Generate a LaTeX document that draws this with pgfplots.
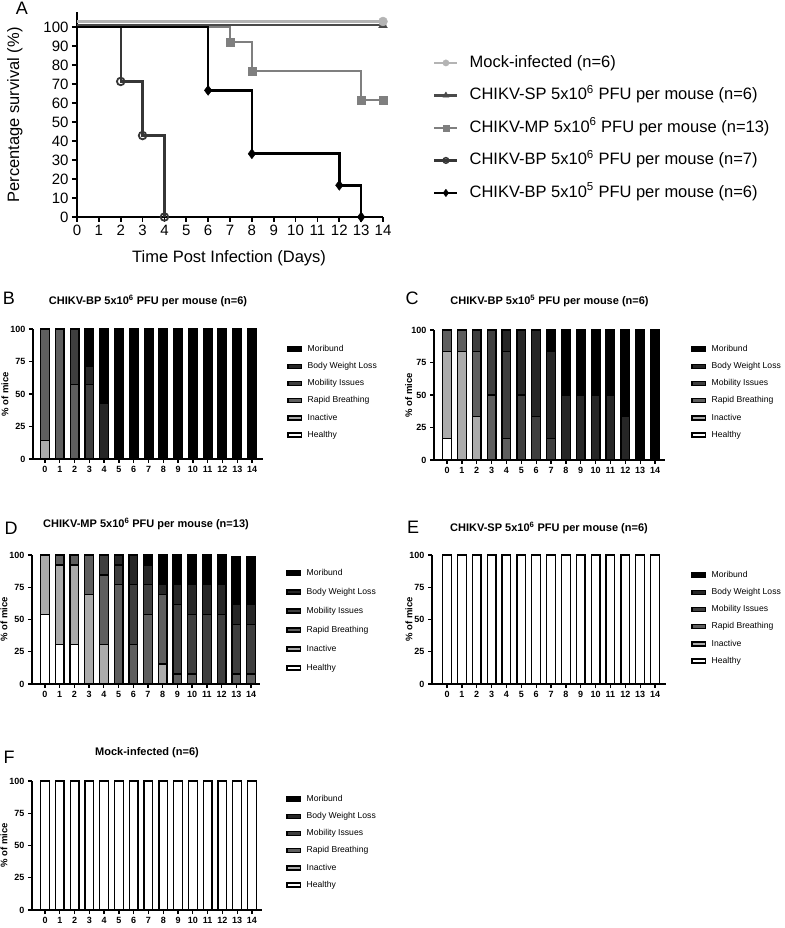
\documentclass[border=0pt]{standalone}
\usepackage{fontspec}
\setmainfont{Liberation Sans}
\usepackage{pgfplots}
\usepackage{pgfplotstable}
\pgfplotsset{compat=1.18}

\definecolor{mockgray}{HTML}{B4B4B4}
\definecolor{spgray}{HTML}{4A4A4A}
\definecolor{mpgray}{HTML}{7F7F7F}
\definecolor{bpgray}{HTML}{363636}
\definecolor{inactive}{HTML}{ABABAB}
\definecolor{rapid}{HTML}{5E5E5E}
\definecolor{mobility}{HTML}{3E3E3E}
\definecolor{bodyloss}{HTML}{262626}

% clinical scores, % of mice per day
% hea=Healthy ina=Inactive rap=Rapid Breathing mob=Mobility Issues bod=Body Weight Loss mor=Moribund
\pgfplotstableread{
day hea ina rap mob bod mor
0  0 14.3 85.7 0    0    0
1  0 0    100  0    0    0
2  0 0    57.1 42.9 0    0
3  0 0    0    57.1 14.3 28.6
4  0 0    0    0    42.9 57.1
5  0 0 0 0 0 100
6  0 0 0 0 0 100
7  0 0 0 0 0 100
8  0 0 0 0 0 100
9  0 0 0 0 0 100
10 0 0 0 0 0 100
11 0 0 0 0 0 100
12 0 0 0 0 0 100
13 0 0 0 0 0 100
14 0 0 0 0 0 100
}\tabB

\pgfplotstableread{
day hea ina rap mob bod mor
0  16.7 66.6 16.7 0    0    0
1  0    83.3 16.7 0    0    0
2  0    33.3 50   16.7 0    0
3  0    0    50   50   0    0
4  0    0    16.7 66.6 16.7 0
5  0    0    0    50   50   0
6  0    0    0    33.3 66.7 0
7  0    0    0    16.7 66.6 16.7
8  0    0    0    0    50   50
9  0    0    0    0    50   50
10 0    0    0    0    50   50
11 0    0    0    0    50   50
12 0    0    0    0    33.3 66.7
13 0    0    0    0    0    100
14 0    0    0    0    0    100
}\tabC

\pgfplotstableread{
day hea ina rap mob bod mor
0  53.8 46.2 0    0    0    0
1  30.8 61.5 7.7  0    0    0
2  30.8 61.5 7.7  0    0    0
3  0    69.2 30.8 0    0    0
4  0    30.8 53.8 15.4 0    0
5  0    0    76.9 15.4 7.7  0
6  0    0    30.8 46.1 23.1 0
7  0    0    53.8 23.1 15.4 7.7
8  0    15.4 53.8 0    7.7  23.1
9  0    0    7.7  53.8 15.4 23.1
10 0    0    7.7  46.1 23.1 23.1
11 0    0    0    53.8 23.1 23.1
12 0    0    0    53.8 23.1 23.1
13 0    0    7.7  38.5 15.4 37.0
14 0    0    7.7  38.5 15.4 37.0
}\tabD

\pgfplotstableread{
day hea ina rap mob bod mor
0  100 0 0 0 0 0
1  100 0 0 0 0 0
2  100 0 0 0 0 0
3  100 0 0 0 0 0
4  100 0 0 0 0 0
5  100 0 0 0 0 0
6  100 0 0 0 0 0
7  100 0 0 0 0 0
8  100 0 0 0 0 0
9  100 0 0 0 0 0
10 100 0 0 0 0 0
11 100 0 0 0 0 0
12 100 0 0 0 0 0
13 100 0 0 0 0 0
14 100 0 0 0 0 0
}\tabE

\pgfplotstableread{
day hea ina rap mob bod mor
0  100 0 0 0 0 0
1  100 0 0 0 0 0
2  100 0 0 0 0 0
3  100 0 0 0 0 0
4  100 0 0 0 0 0
5  100 0 0 0 0 0
6  100 0 0 0 0 0
7  100 0 0 0 0 0
8  100 0 0 0 0 0
9  100 0 0 0 0 0
10 100 0 0 0 0 0
11 100 0 0 0 0 0
12 100 0 0 0 0 0
13 100 0 0 0 0 0
14 100 0 0 0 0 0
}\tabF

\newcommand{\stackbars}[1]{%
  \addplot[fill=white] table[x=day,y=hea]{#1}; \addlegendentry{Healthy}
  \addplot[fill=inactive] table[x=day,y=ina]{#1}; \addlegendentry{Inactive}
  \addplot[fill=rapid] table[x=day,y=rap]{#1}; \addlegendentry{Rapid Breathing}
  \addplot[fill=mobility] table[x=day,y=mob]{#1}; \addlegendentry{Mobility Issues}
  \addplot[fill=bodyloss] table[x=day,y=bod]{#1}; \addlegendentry{Body Weight Loss}
  \addplot[fill=black] table[x=day,y=mor]{#1}; \addlegendentry{Moribund}
}

\pgfplotsset{
  panel/.style={
    anchor=south west, scale only axis,
    ybar stacked, bar width=8.7pt,
    ymin=0, ymax=100, ytick={0,25,50,75,100},
    xtick={0,...,14},
    axis lines=left, axis line style={-, line width=1.8pt},
    tick align=outside, major tick length=4pt,
    tick style={black, line width=1.3pt},
    ticklabel style={font=\bfseries\fontsize{9}{9}\selectfont},
    /pgf/number format/assume math mode=true,
    ylabel={\% of mice},
    ylabel style={font=\bfseries\fontsize{9.5}{9.5}\selectfont, anchor=center},
    clip=false,
    every axis plot/.append style={draw=black, line width=1.3pt},
    title style={font=\bfseries\fontsize{11}{11}\selectfont, at={(0.5,1)}, anchor=south, inner sep=0pt},
    legend style={at={(1,1)}, anchor=north west, draw=none, fill=none, inner sep=0pt,
      column sep=4.5pt, font=\fontsize{8.6}{8.6}\selectfont,
      nodes={inner sep=1pt, text height=6.4pt, text depth=1.9pt}},
    legend cell align=left, reverse legend,
    legend image code/.code={\draw[##1] (0pt,-2pt) rectangle (13.7pt,2pt);},
  }
}

\begin{document}
\begin{tikzpicture}
\useasboundingbox (0,0) rectangle (784pt,928pt);

% ---- A: survival ----
\begin{axis}[
  at={(77pt,711pt)}, anchor=south west,
  scale only axis, width=306pt, height=205pt,
  xmin=0, xmax=14, ymin=0, ymax=108,
  axis lines=left, axis line style={-, line width=2.4pt},
  xtick={0,...,14}, ytick={0,10,...,100},
  tick align=outside, major tick length=5pt,
  tick style={black, line width=1.8pt},
  ticklabel style={font=\fontsize{15}{15}\selectfont},
  /pgf/number format/assume math mode=true,
  xlabel={Time Post Infection (Days)},
  ylabel={Percentage survival (\%)},
  label style={font=\fontsize{16.5}{16.5}\selectfont},
  xlabel style={at={(axis description cs:0.497,-0.2)}, anchor=center},
  ylabel style={at={(axis description cs:-0.203,0.498)}, anchor=center},
  clip=false,
  legend style={at={(1,1)}, anchor=north west, xshift=50pt, yshift=-42pt,
    draw=none, fill=none, inner sep=0pt, row sep=15pt, column sep=10pt,
    font=\fontsize{16.5}{16.5}\selectfont,
    nodes={inner sep=1pt, text height=12pt, text depth=3.5pt}},
  legend cell align=left,
  legend image code/.code={\draw[mark repeat=2, mark phase=2, #1] plot coordinates {(0pt,0pt) (11.5pt,0pt) (23pt,0pt)};},
]
\addplot[const plot, mpgray, line width=2.4pt, mark=square*, mark size=4pt,
  mark options={line width=0.4pt}, mark indices={2,3,4,5}, forget plot]
  coordinates {(0,100) (7,92.3) (8,76.9) (13,61.5) (14,61.5)};
\addplot[const plot, bpgray, line width=2.4pt, mark=o, mark size=3.8pt,
  mark options={line width=1.8pt}, mark indices={2,3,4}, forget plot]
  coordinates {(0,100) (2,71.4) (3,42.9) (4,0)};
\addplot[const plot, black, line width=2.6pt, mark=diamond*, mark size=5pt,
  mark options={line width=0.4pt}, mark indices={2,3,4,5}, forget plot]
  coordinates {(0,100) (6,66.7) (8,33.3) (12,16.7) (13,0)};
\addplot[spgray, line width=2.4pt, mark=triangle*, mark size=5pt,
  mark options={line width=0.4pt}, mark indices={2}, forget plot]
  coordinates {(0,101) (14,101)};
\addplot[mockgray, line width=2.4pt, mark=*, mark size=4.5pt,
  mark options={line width=0.4pt}, mark indices={2}, forget plot]
  coordinates {(0,103) (14,103)};

\addlegendimage{mockgray, line width=2.4pt, mark=*, mark size=3.2pt, mark options={line width=0.3pt}}
\addlegendentry{Mock-infected (n=6)}
\addlegendimage{spgray, line width=2.4pt, mark=triangle*, mark size=3.6pt, mark options={line width=0.3pt}}
\addlegendentry{CHIKV-SP 5x10\textsuperscript{6} PFU per mouse (n=6)}
\addlegendimage{mpgray, line width=2.4pt, mark=square*, mark size=2.8pt, mark options={line width=0.3pt}}
\addlegendentry{CHIKV-MP 5x10\textsuperscript{6} PFU per mouse (n=13)}
\addlegendimage{bpgray, line width=2.4pt, mark=o, mark size=2.8pt, mark options={line width=1.5pt}}
\addlegendentry{CHIKV-BP 5x10\textsuperscript{6} PFU per mouse (n=7)}
\addlegendimage{black, line width=2.4pt, mark=diamond*, mark size=3.8pt, mark options={line width=0.3pt}}
\addlegendentry{CHIKV-BP 5x10\textsuperscript{5} PFU per mouse (n=6)}
\end{axis}

% ---- B ----
\begin{axis}[panel, at={(33pt,469pt)}, width=230pt, height=130pt,
  xmin=-0.81, xmax=14.74,
  title={CHIKV-BP 5x10\textsuperscript{6} PFU per mouse (n=6)}, title style={yshift=16pt},
  ylabel style={at={(axis description cs:-0.122,0.5)}},
  legend style={xshift=24pt, yshift=-14.75pt, row sep=6.9pt}]
\stackbars{\tabB}
\end{axis}

% ---- C ----
\begin{axis}[panel, at={(434pt,468pt)}, width=231pt, height=130pt,
  xmin=-0.875, xmax=14.67,
  title={CHIKV-BP 5x10\textsuperscript{5} PFU per mouse (n=6)}, title style={yshift=17pt},
  ylabel style={at={(axis description cs:-0.109,0.5)}},
  legend style={xshift=26pt, yshift=-13.75pt, row sep=6.9pt}]
\stackbars{\tabC}
\end{axis}

% ---- D ----
\begin{axis}[panel, at={(32pt,244pt)}, width=228pt, height=129pt,
  xmin=-0.88, xmax=14.61,
  title={CHIKV-MP 5x10\textsuperscript{6} PFU per mouse (n=13)}, title style={yshift=19pt},
  ylabel style={at={(axis description cs:-0.123,0.5)}},
  legend style={xshift=26pt, yshift=-12.75pt, row sep=8.7pt}]
\stackbars{\tabD}
\end{axis}

% ---- E ----
\begin{axis}[panel, at={(432pt,244pt)}, width=234pt, height=129pt,
  xmin=-1.01, xmax=14.74,
  title={CHIKV-SP 5x10\textsuperscript{6} PFU per mouse (n=6)}, title style={yshift=15pt},
  ylabel style={at={(axis description cs:-0.098,0.5)}},
  legend style={xshift=25pt, yshift=-14.75pt, row sep=6.9pt}]
\stackbars{\tabE}
\end{axis}

% ---- F ----
\begin{axis}[panel, at={(32pt,18pt)}, width=230pt, height=129pt,
  xmin=-0.88, xmax=14.68,
  title={Mock-infected (n=6)}, title style={yshift=17.5pt},
  ylabel style={at={(axis description cs:-0.122,0.5)}},
  legend style={xshift=24pt, yshift=-12.75pt, row sep=6.9pt}]
\stackbars{\tabF}
\end{axis}

% panel letters
\begin{scope}[every node/.style={font=\fontsize{18}{18}\selectfont, inner sep=0pt}]
\node at (22pt,920pt) {A};
\node at (9pt,630pt) {B};
\node at (412pt,630pt) {C};
\node at (11pt,400pt) {D};
\node at (413pt,401pt) {E};
\node at (9pt,171pt) {F};
\end{scope}
\end{tikzpicture}
\end{document}
